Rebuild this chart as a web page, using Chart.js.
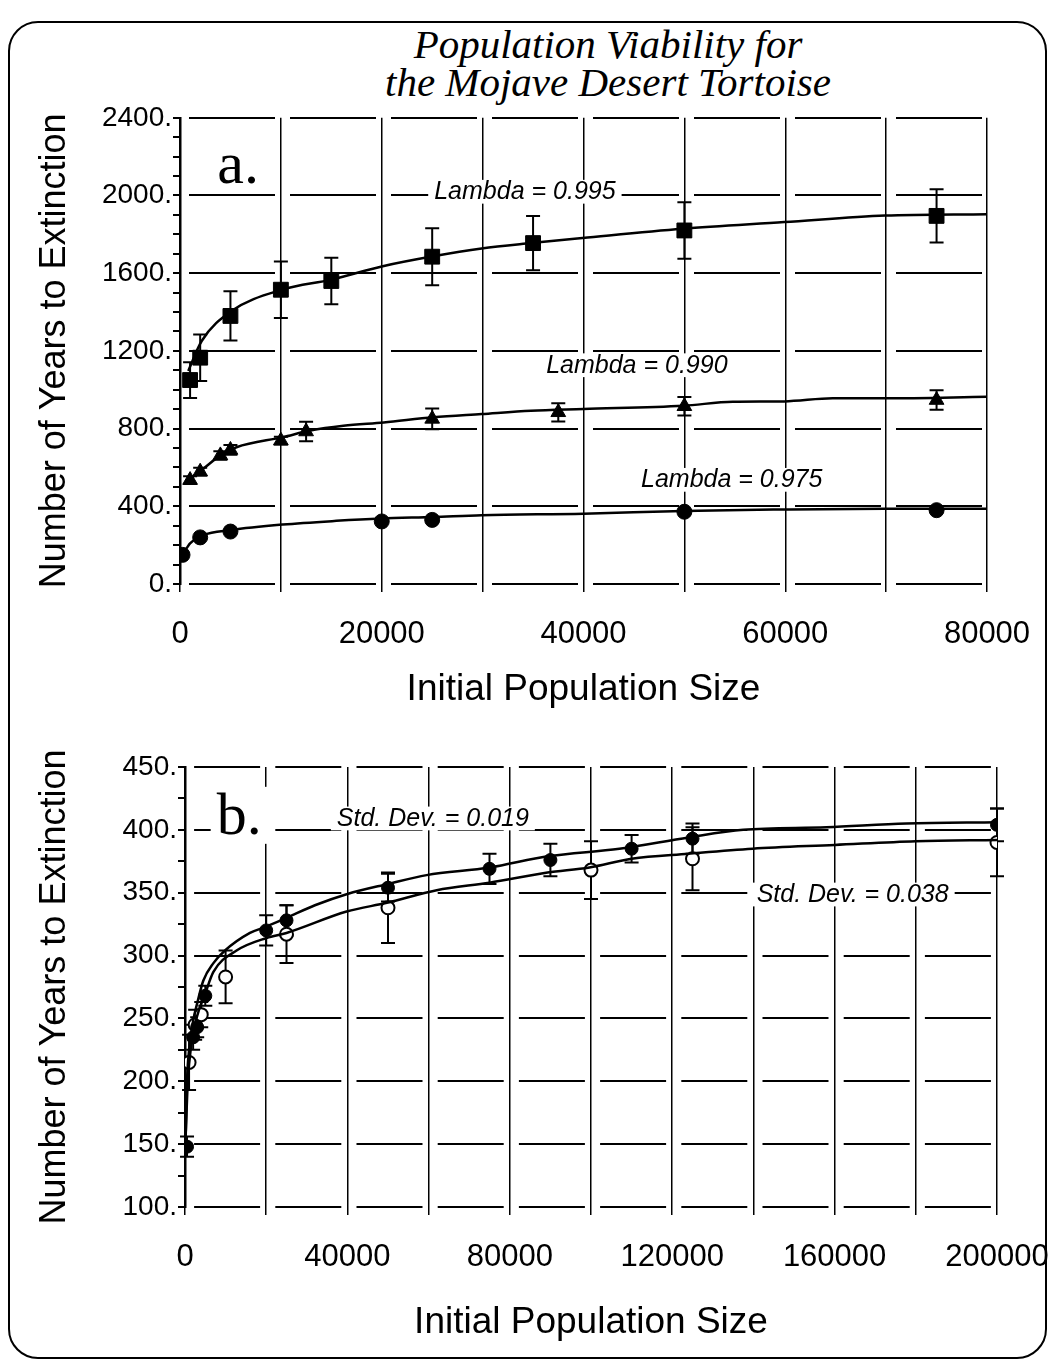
<!DOCTYPE html>
<html><head><meta charset="utf-8">
<script src="https://cdn.jsdelivr.net/npm/chart.js@4.4.1/dist/chart.umd.min.js"></script>
<style>
html,body{margin:0;padding:0;background:#fff;}
body{width:1054px;height:1367px;position:relative;overflow:hidden;}
#frame{position:absolute;left:8px;top:21px;width:1039px;height:1338px;box-sizing:border-box;border:2px solid #000;border-radius:30px;}
#title{position:absolute;left:0;width:1216px;top:25px;text-align:center;font-family:"Liberation Serif","Times New Roman",serif;font-style:italic;font-size:41px;line-height:38px;color:#000;}
canvas{position:absolute;left:0;}
#cA{top:100px;}
#cB{top:720px;}
</style></head>
<body>
<div id="frame"></div>
<div id="title">Population Viability for<br>the Mojave Desert Tortoise</div>
<canvas id="cA" width="1054" height="620"></canvas>
<canvas id="cB" width="1054" height="647"></canvas>
<script>
// ---------------- Panel a data ----------------
const popA_995 = [1000, 2000, 5000, 10000, 15000, 25000, 35000, 50000, 75000];
const yrsA_995 = [1050, 1165, 1380, 1515, 1560, 1685, 1755, 1820, 1895];
const errA_995 = [92, 120, 127, 145, 120, 147, 140, 145, 137];
const popA_990 = [1000, 2000, 4000, 5000, 10000, 12500, 25000, 37500, 50000, 75000];
const yrsA_990 = [535, 578, 662, 690, 738, 785, 850, 884, 915, 947];
const errA_990 = [20, 20, 22, 25, 20, 50, 53, 47, 48, 50];
const popA_975 = [250, 2000, 5000, 20000, 25000, 50000, 75000];
const yrsA_975 = [150, 240, 270, 322, 330, 372, 380];
const fitPopA_995 = [820, 2150, 5100, 10170, 15000, 20100, 25100, 29900, 34800, 39900, 49800, 59900, 69900, 80000];
const fitYrsA_995 = [1097, 1251, 1405, 1516, 1567, 1636, 1687, 1727, 1755, 1781, 1829, 1863, 1897, 1904];
const fitPopA_990 = [830, 2300, 4000, 5600, 10200, 12900, 16200, 20200, 25100, 29900, 34800, 40000, 49900, 54800, 59900, 64700, 69900, 80000];
const fitYrsA_990 = [533, 593, 662, 704, 756, 790, 815, 832, 858, 875, 892, 901, 918, 938, 940, 956, 956, 964];
const fitPopA_975 = [300, 1000, 2300, 5000, 10200, 15500, 19900, 25100, 29900, 40000, 49900, 58800, 69900, 80000];
const fitYrsA_975 = [154, 209, 251, 277, 306, 325, 337, 345, 354, 362, 376, 383, 388, 388];
const notesA = ['a.', 'Lambda = 0.995', 'Lambda = 0.990', 'Lambda = 0.975'];
const notePopA = [3700, 25200, 36300, 45700];
const noteYrsA = [2062, 1980, 1087, 497];

// ---------------- Panel b data ----------------
const popB_019 = [500, 2000, 3000, 5000, 20000, 25000, 50000, 75000, 90000, 110000, 125000, 200000];
const yrsB_019 = [148, 235, 243, 268, 320, 328, 354, 369, 376, 385, 393, 404];
const errB_019 = [8, 10, 8, 8, 12, 12, 11, 12, 13, 11, 12, 13];
const popB_038 = [1000, 2500, 4000, 10000, 25000, 50000, 100000, 125000, 200000];
const yrsB_038 = [215, 245, 253, 283, 317, 338, 368, 377, 390];
const errB_038 = [22, 12, 10, 21, 23, 28, 23, 25, 27];
const fitPopB_019 = [100, 500, 1000, 2000, 3000, 4500, 7000, 9850, 16000, 20000, 25000, 32000, 40000, 50000, 59500, 75000, 89300, 107000, 124000, 137500, 158000, 177700, 200000];
const fitYrsB_019 = [145, 200, 225, 248, 262, 280, 294, 304, 318, 323, 330, 340, 349, 357, 364, 370, 379, 385, 394, 400, 402, 405, 406];
const fitPopB_038 = [200, 700, 1500, 3000, 5000, 7000, 12700, 20100, 25000, 39800, 49700, 62000, 75000, 89300, 99600, 110000, 124000, 139800, 160000, 180000, 200000];
const fitYrsB_038 = [160, 200, 228, 252, 270, 287, 304, 314, 318, 335, 342, 352, 358, 366, 370, 377, 381, 385, 388, 391, 392];
const notesB = ['b.', 'Std. Dev. = 0.019', 'Std. Dev. = 0.038'];
const notePopB = [7800, 37400, 140800];
const noteYrsB = [397, 403, 342.5];

const yTitle = 'Number of Years to Extinction';
const xTitle = 'Initial Population Size';

const SANS = '"Liberation Sans", Arial, Helvetica, sans-serif';
const SERIF = '"Liberation Serif", "Times New Roman", serif';

const pts = (xs, ys) => xs.map((x, i) => ({x: x, y: ys[i]}));

function notePlugin(texts, xs, ys) {
  return {
    id: 'notes',
    beforeDatasetsDraw(chart) {
      const {ctx, scales: {x, y}} = chart;
      ctx.save();
      texts.forEach((t, i) => {
        const big = t.length <= 2;
        const size = big ? 60 : 25;
        ctx.font = big ? `${size}px ${SERIF}` : `italic ${size}px ${SANS}`;
        const px = x.getPixelForValue(xs[i]);
        const py = y.getPixelForValue(ys[i]);
        const w = ctx.measureText(t).width;
        ctx.fillStyle = '#fff';
        ctx.fillRect(px - 6, py - size * 0.78, w + 12, size * 0.95);
        ctx.fillStyle = '#000';
        ctx.textBaseline = 'alphabetic';
        ctx.textAlign = 'left';
        ctx.fillText(t, px, py);
      });
      ctx.restore();
    }
  };
}

const errorBars = {
  id: 'errorBars',
  beforeDatasetsDraw(chart) {
    const {ctx, scales: {x, y}} = chart;
    chart.data.datasets.forEach((ds) => {
      if (!ds.errors) return;
      ctx.save();
      ctx.strokeStyle = '#000';
      ctx.lineWidth = 2;
      ds.data.forEach((p, j) => {
        const e = ds.errors[j];
        if (!e) return;
        const px = x.getPixelForValue(p.x);
        const y1 = y.getPixelForValue(p.y - e);
        const y2 = y.getPixelForValue(p.y + e);
        ctx.beginPath();
        ctx.moveTo(px, y1); ctx.lineTo(px, y2);
        ctx.moveTo(px - 7, y1); ctx.lineTo(px + 7, y1);
        ctx.moveTo(px - 7, y2); ctx.lineTo(px + 7, y2);
        ctx.stroke();
      });
      ctx.restore();
    });
  }
};

function curve(xs, ys) {
  return {data: pts(xs, ys), showLine: true, borderColor: '#000', borderWidth: 2.5,
    pointRadius: 0, cubicInterpolationMode: 'monotone', fill: false};
}
function marks(xs, ys, style, r, errs, open) {
  return {data: pts(xs, ys), showLine: false, pointStyle: style, pointRadius: r,
    pointBackgroundColor: open ? '#fff' : '#000', pointBorderColor: '#000',
    pointBorderWidth: open ? 2 : 1, errors: errs || null};
}

function axes(o) {
  return {
    x: {
      type: 'linear', min: 0, max: o.xMax, position: 'bottom',
      afterFit(s) { s.height = o.xH; s.paddingRight = 40; s.paddingLeft = 10; },
      ticks: {stepSize: o.xStep, autoSkip: false, maxRotation: 0, color: '#000', padding: o.xPad,
        font: {family: SANS, size: 31},
        callback: v => (v % o.xLab === 0 ? String(v) : '')},
      grid: {color: '#000', lineWidth: 1.5, tickLength: 8, tickColor: '#000', tickWidth: 1.5},
      border: {display: false},
      title: {display: true, text: xTitle, color: '#000', font: {family: SANS, size: 37},
        padding: {top: 0, bottom: o.xTitlePad}}
    },
    y: {
      min: o.yMin, max: o.yMax,
      afterFit(s) { s.width = o.yW; },
      ticks: {stepSize: o.yStep, autoSkip: false, color: '#000', padding: 1,
        font: {family: SANS, size: 28},
        callback: v => (v % o.yLab === 0 ? v + '.' : '')},
      grid: {color: c => (c.tick && c.tick.value % o.yLab === 0 ? '#000' : 'rgba(0,0,0,0)'),
        lineWidth: 2, tickLength: 7, tickColor: '#000', tickWidth: 2},
      border: {display: true, color: '#000', width: 2.5, dash: o.dash, dashOffset: o.dashOff},
      title: {display: true, text: yTitle, color: '#000', font: {family: SANS, size: 36},
        padding: {top: 33, bottom: 0}}
    }
  };
}

const common = {
  responsive: false, animation: false, devicePixelRatio: 1,
  plugins: {legend: {display: false}, tooltip: {enabled: false}}
};

new Chart(document.getElementById('cA'), {
  type: 'scatter',
  data: {datasets: [
    curve(fitPopA_995, fitYrsA_995),
    curve(fitPopA_990, fitYrsA_990),
    curve(fitPopA_975, fitYrsA_975),
    marks(popA_995, yrsA_995, 'rect', 10.5, errA_995),
    marks(popA_990, yrsA_990, 'triangle', 8.5, errA_990),
    marks(popA_975, yrsA_975, 'circle', 7.5, null)
  ]},
  options: Object.assign({}, common, {
    layout: {padding: {left: 0, top: 17, right: 67, bottom: 0}},
    scales: axes({xMax: 80000, xStep: 10000, xLab: 20000, xH: 136, xPad: 24, xTitlePad: 8,
      yMin: 0, yMax: 2400, yStep: 100, yLab: 400, yW: 180, dash: [86, 15], dashOff: 93.5})
  }),
  plugins: [notePlugin(notesA, notePopA, noteYrsA), errorBars]
});

new Chart(document.getElementById('cB'), {
  type: 'scatter',
  data: {datasets: [
    curve(fitPopB_019, fitYrsB_019),
    curve(fitPopB_038, fitYrsB_038),
    marks(popB_019, yrsB_019, 'circle', 6.5, errB_019, false),
    marks(popB_038, yrsB_038, 'circle', 6.5, errB_038, true)
  ]},
  options: Object.assign({}, common, {
    layout: {padding: {left: 0, top: 47, right: 57, bottom: 0}},
    scales: axes({xMax: 200000, xStep: 20000, xLab: 40000, xH: 160, xPad: 24, xTitlePad: 22,
      yMin: 100, yMax: 450, yStep: 25, yLab: 50, yW: 185, dash: [66, 15.2], dashOff: 73.6})
  }),
  plugins: [notePlugin(notesB, notePopB, noteYrsB), errorBars]
});
</script>
</body></html>
